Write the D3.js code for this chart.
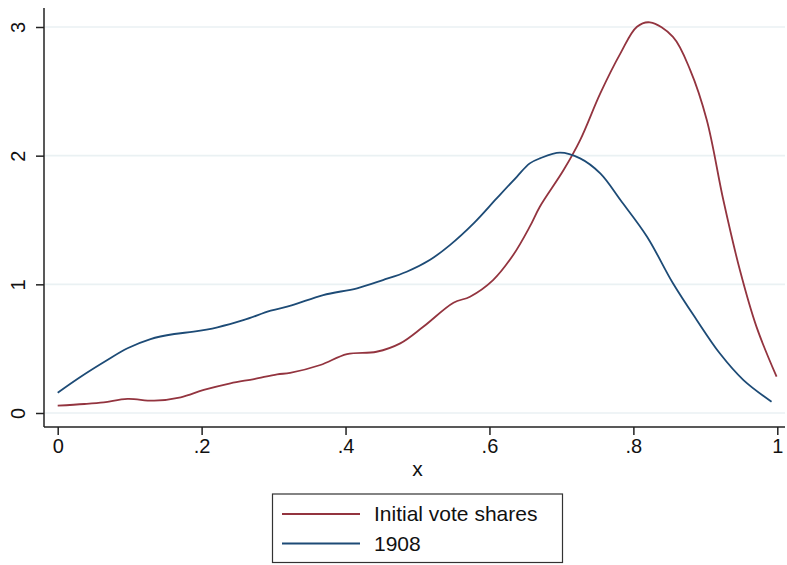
<!DOCTYPE html>
<html>
<head>
<meta charset="utf-8">
<script src="https://cdn.jsdelivr.net/npm/d3@7"></script>
<style>
  body { margin: 0; background: #fff; }
  svg { display: block; }
  svg text { font-family: "Liberation Sans", Arial, sans-serif; }
</style>
</head>
<body>
<div id="chart"></div>
<script>
// density curves (x, density)
const initialX = [0, 0.037, 0.064, 0.097, 0.134, 0.171, 0.203, 0.240, 0.273, 0.305, 0.323, 0.365, 0.402, 0.443, 0.476, 0.508, 0.550, 0.573, 0.605, 0.633, 0.656, 0.670, 0.703, 0.726, 0.754, 0.782, 0.805, 0.823, 0.855, 0.879, 0.902, 0.925, 0.948, 0.971, 0.999];
const initialY = [0.057, 0.070, 0.083, 0.109, 0.096, 0.122, 0.179, 0.231, 0.264, 0.300, 0.312, 0.373, 0.458, 0.476, 0.541, 0.670, 0.857, 0.904, 1.033, 1.228, 1.448, 1.603, 1.888, 2.121, 2.484, 2.795, 3.002, 3.036, 2.924, 2.665, 2.277, 1.655, 1.111, 0.671, 0.282];

const y1908X = [0, 0.032, 0.069, 0.097, 0.129, 0.162, 0.189, 0.222, 0.259, 0.296, 0.325, 0.369, 0.416, 0.452, 0.485, 0.517, 0.545, 0.578, 0.610, 0.638, 0.656, 0.670, 0.698, 0.726, 0.754, 0.782, 0.819, 0.855, 0.888, 0.920, 0.953, 0.992];
const y1908Y = [0.158, 0.282, 0.412, 0.503, 0.575, 0.614, 0.632, 0.666, 0.723, 0.795, 0.836, 0.917, 0.969, 1.033, 1.098, 1.189, 1.305, 1.474, 1.668, 1.836, 1.940, 1.979, 2.023, 1.979, 1.862, 1.655, 1.370, 1.008, 0.723, 0.464, 0.256, 0.088];

const xTicks = [0, 0.2, 0.4, 0.6, 0.8, 1];
const xTickLabels = ["0", ".2", ".4", ".6", ".8", "1"];
const yTicks = [0, 1, 2, 3];

const seriesNames = ["Initial vote shares", "1908"];
const seriesColors = ["#93343f", "#1d4b76"];

const width = 787;
const height = 565;

const plotLeft = 44, plotRight = 785, plotTop = 8, plotBottom = 427;
const font = '"Liberation Sans", Arial, sans-serif';

const svg = d3.select("#chart")
    .append("svg")
    .attr("width", width)
    .attr("height", height);

// 0 and 1 sit a bit inside the frame, like stata does
const x = d3.scaleLinear()
    .domain([0, 1])
    .range([57.7, 777.3]);

const y = d3.scaleLinear()
    .domain([0, 3])
    .range([413, 27]);

// gridlines
svg.append("g")
    .selectAll("line")
    .data(yTicks)
    .enter()
    .append("line")
    .attr("x1", plotLeft + 1)
    .attr("x2", plotRight)
    .attr("y1", d => y(d))
    .attr("y2", d => y(d))
    .attr("stroke", "#eaf1f3")
    .attr("stroke-width", 1.6);

// curves
const series = [
    { xs: initialX, ys: initialY },
    { xs: y1908X, ys: y1908Y }
];

const line = d3.line()
    .x(d => x(d[0]))
    .y(d => y(d[1]))
    .curve(d3.curveCatmullRom.alpha(0.5));

series.forEach((s, i) => {
    svg.append("path")
        .datum(s.xs.map((v, j) => [v, s.ys[j]]))
        .attr("d", line)
        .attr("fill", "none")
        .attr("stroke", seriesColors[i])
        .attr("stroke-width", 1.8);
});

// y axis
const yAxis = svg.append("g")
    .attr("transform", "translate(" + plotLeft + ",0)")
    .call(d3.axisLeft(y).tickValues(yTicks).tickFormat(d3.format("d")).tickSize(8).tickPadding(0))
    .attr("font-family", font)
    .attr("font-size", 20);
yAxis.select(".domain").remove();
yAxis.selectAll("line").attr("stroke", "#222").attr("stroke-width", 1.5);
yAxis.selectAll("text").remove();
yAxis.selectAll(".tick")
    .append("text")
    .attr("transform", "translate(-26,0) rotate(-90)")
    .attr("text-anchor", "middle")
    .attr("dy", "0.35em")
    .attr("fill", "#111")
    .text(d => d);

svg.append("line")
    .attr("x1", plotLeft).attr("x2", plotLeft)
    .attr("y1", plotTop).attr("y2", plotBottom)
    .attr("stroke", "#222").attr("stroke-width", 1.5);

// x axis
const xAxis = svg.append("g")
    .attr("transform", "translate(0," + plotBottom + ")")
    .call(d3.axisBottom(x).tickValues(xTicks).tickFormat((d, i) => xTickLabels[i]).tickSize(8).tickPadding(0))
    .attr("font-family", font)
    .attr("font-size", 20);
xAxis.select(".domain").remove();
xAxis.selectAll("line").attr("stroke", "#222").attr("stroke-width", 1.5);
xAxis.selectAll("text")
    .attr("y", 26)
    .attr("dy", null)
    .attr("fill", "#111");

svg.append("line")
    .attr("x1", plotLeft).attr("x2", plotRight)
    .attr("y1", plotBottom).attr("y2", plotBottom)
    .attr("stroke", "#222").attr("stroke-width", 1.5);

svg.append("text")
    .attr("x", (x(0) + x(1)) / 2)
    .attr("y", 476)
    .attr("text-anchor", "middle")
    .attr("fill", "#111")
    .attr("font-size", 21)
    .text("x");

// legend
const legend = svg.append("g");
legend.append("rect")
    .attr("x", 272.5).attr("y", 494)
    .attr("width", 290).attr("height", 68.5)
    .attr("fill", "#fff")
    .attr("stroke", "#333")
    .attr("stroke-width", 1.2);

seriesNames.forEach((name, i) => {
    const ly = 514 + i * 29.5;
    legend.append("line")
        .attr("x1", 282).attr("x2", 360)
        .attr("y1", ly).attr("y2", ly)
        .attr("stroke", seriesColors[i])
        .attr("stroke-width", 1.8);
    legend.append("text")
        .attr("x", 374)
        .attr("y", ly)
        .attr("dy", "0.35em")
        .attr("fill", "#111")
        .attr("font-size", 21)
        .text(name);
});
</script>
</body>
</html>
